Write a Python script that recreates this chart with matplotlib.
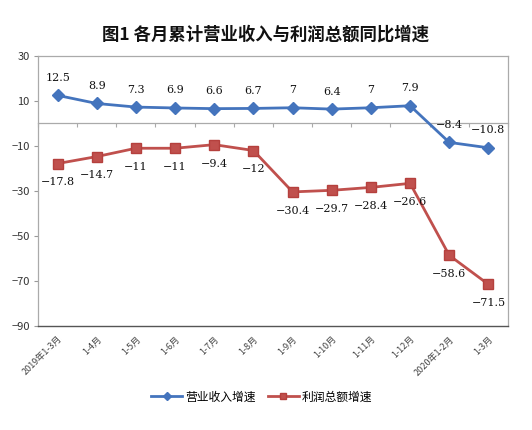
import matplotlib
matplotlib.use("Agg")
import matplotlib.pyplot as plt
import numpy as np

plt.rcParams['font.family'] = ['Noto Sans CJK SC', 'DejaVu Sans']

categories = ["2019年1-3月", "1-4月", "1-5月", "1-6月", "1-7月", "1-8月", "1-9月",
              "1-10月", "1-11月", "1-12月", "2020年1-2月", "1-3月"]
revenue = [12.5, 8.9, 7.3, 6.9, 6.6, 6.7, 7, 6.4, 7, 7.9, -8.4, -10.8]
profit = [-17.8, -14.7, -11, -11, -9.4, -12, -30.4, -29.7, -28.4, -26.6, -58.6, -71.5]
yticks = [30, 10, -10, -30, -50, -70, -90]

blue = '#4474BD'
red = '#C0504D'

fig = plt.figure(figsize=(5.32, 4.30), dpi=100)
ax = fig.add_axes([38/532, 1-326/430, 470/532, 270/430])
x = np.arange(len(categories))

ax.plot(x, revenue, color=blue, lw=2.0, marker='D', ms=6, mfc=blue, mec=blue,
        label='营业收入增速', zorder=3)
ax.plot(x, profit, color=red, lw=2.0, marker='s', ms=7, mfc=red, mec='#B5403D',
        label='利润总额增速', zorder=3)

def fmt(v):
    s = f"{v:g}"
    return s.replace('-', '−')

for xi, v in zip(x, revenue):
    ax.annotate(fmt(v), (xi, v), xytext=(0, 9), textcoords='offset points',
                ha='center', va='bottom', fontsize=8, family='DejaVu Serif',
                color='#111111')
for xi, v in zip(x, profit):
    ax.annotate(fmt(v), (xi, v), xytext=(0, -10), textcoords='offset points',
                ha='center', va='top', fontsize=8, family='DejaVu Serif',
                color='#111111')

ax.set_xlim(-0.5, len(categories) - 0.5)
ax.set_ylim(-90, 30)
ax.set_yticks(yticks)
ax.set_yticklabels([fmt(t) for t in yticks], fontsize=8, color='#333333')
ax.tick_params(axis='y', length=3, color='#999999', pad=3)

ax.set_xticks(x)
ax.set_xticklabels(categories, rotation=45, ha='right', rotation_mode='anchor',
                   fontsize=6.5, color='#444444')
ax.tick_params(axis='x', length=0, pad=6)

for side in ['left', 'right', 'top']:
    ax.spines[side].set_color('#AAAAAA')
    ax.spines[side].set_linewidth(0.9)
ax.spines['bottom'].set_color('#555555')
ax.spines['bottom'].set_linewidth(1.0)

# category axis line at zero
sec = ax.secondary_xaxis((0 - (-90)) / 120)
sec.set_xticks(np.arange(len(categories) + 1) - 0.5)
sec.set_xticklabels([])
sec.tick_params(axis='x', direction='in', length=3, color='#AAAAAA')
for sp in sec.spines.values():
    sp.set_color('#AAAAAA')
    sp.set_linewidth(0.9)

fig.text(0.5, 1 - 35/430, "图1 各月累计营业收入与利润总额同比增速", ha='center', va='center',
         fontsize=12.5, fontweight='bold', color='#111111')

leg = fig.legend(loc='center', bbox_to_anchor=(262/532, 1 - 397/430), ncol=2,
                 frameon=False, fontsize=8.5, handlelength=2.6, columnspacing=1.0,
                 handletextpad=0.3, markerscale=0.7)

fig.savefig('out.png', dpi=100)
